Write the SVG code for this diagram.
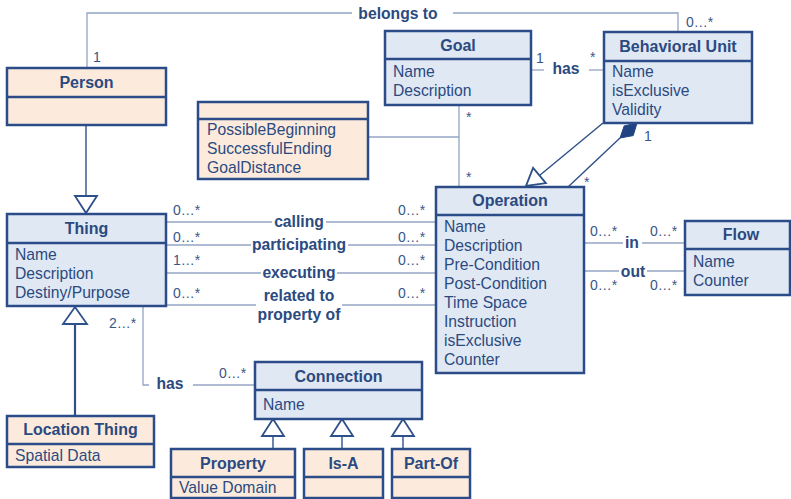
<svg xmlns="http://www.w3.org/2000/svg" width="791" height="499" viewBox="0 0 791 499">
<style>
.box{stroke:#2b4c88;stroke-width:2.5}
.blue{fill:#e0e8f4}
.orange{fill:#fcebdd}
.div{stroke:#2b4c88;stroke-width:2.5}
.title{font-family:"Liberation Sans",Arial,sans-serif;font-weight:bold;font-size:16px;fill:#2b4a80;text-anchor:middle}
.attr{font-family:"Liberation Sans",Arial,sans-serif;font-size:15.7px;fill:#2b4a80}
.lbl{font-family:"Liberation Sans",Arial,sans-serif;font-weight:bold;font-size:15.7px;fill:#2b4a80;text-anchor:middle}
.mult{font-family:"Liberation Sans",Arial,sans-serif;font-size:14px;fill:#3a5686}
.thin{fill:none;stroke:#93a5c4;stroke-width:1.3}
.navy{fill:none;stroke:#2e5089;stroke-width:1.4}
.navy2{fill:none;stroke:#2e5089;stroke-width:2.2}
.tri{fill:#ffffff;stroke:#2e5089;stroke-width:1.8}
</style>
<rect width="791" height="499" fill="#ffffff"/>

<g id="connectors">
  <!-- belongs to -->
  <polyline class="thin" points="87,68 87,13 352,13"/>
  <polyline class="thin" points="453,13 678,13 678,32"/>
  <text class="lbl" x="398" y="19">belongs to</text>
  <text class="mult" x="93" y="62">1</text>
  <text class="mult" x="686" y="27">0…*</text>
  <!-- Goal has BU -->
  <line class="thin" x1="531" y1="70" x2="544" y2="70"/>
  <line class="thin" x1="589" y1="70" x2="604" y2="70"/>
  <text class="lbl" x="566" y="74">has</text>
  <text class="mult" x="536" y="63">1</text>
  <text class="mult" x="590" y="62">*</text>
  <!-- Goal - Operation -->
  <line class="thin" x1="459" y1="105" x2="459" y2="187"/>
  <line class="thin" x1="368" y1="137" x2="459" y2="137"/>
  <text class="mult" x="466" y="122">*</text>
  <text class="mult" x="466" y="182">*</text>
  <!-- BU generalization to Operation -->
  <line class="navy" x1="603" y1="123" x2="539.5" y2="175.5"/>
  <polygon class="tri" points="533.1,167.8 545.9,183.2 526,186"/>
  <!-- composition -->
  <line class="navy" x1="568" y1="187" x2="620" y2="138"/>
  <polygon fill="#1f4283" stroke="#1f4283" stroke-width="1" points="637,123 633.2,135.6 620,138 624.2,125.9"/>
  <text class="mult" x="644" y="141">1</text>
  <text class="mult" x="584" y="187">*</text>
  <!-- Person -> Thing -->
  <line class="navy" x1="86" y1="125" x2="86" y2="196"/>
  <polygon class="tri" points="75,196 97,196 86,213"/>
  <!-- Location Thing -> Thing -->
  <line class="navy2" x1="75" y1="324" x2="75" y2="416"/>
  <polygon class="tri" points="63,324 87,324 75,307"/>
  <!-- Thing - Operation -->
  <line class="thin" x1="166" y1="222" x2="272" y2="222"/>
  <line class="thin" x1="326" y1="222" x2="436" y2="222"/>
  <text class="lbl" x="299" y="227">calling</text>
  <line class="thin" x1="166" y1="245" x2="251" y2="245"/>
  <line class="thin" x1="348" y1="245" x2="436" y2="245"/>
  <text class="lbl" x="299" y="250">participating</text>
  <line class="thin" x1="166" y1="273" x2="261" y2="273"/>
  <line class="thin" x1="337" y1="273" x2="436" y2="273"/>
  <text class="lbl" x="299" y="278">executing</text>
  <line class="thin" x1="166" y1="305" x2="256" y2="305"/>
  <line class="thin" x1="342" y1="305" x2="436" y2="305"/>
  <text class="lbl" x="299" y="301">related to</text>
  <text class="lbl" x="299" y="320">property of</text>
  <text class="mult" x="173" y="215">0…*</text>
  <text class="mult" x="173" y="242">0…*</text>
  <text class="mult" x="173" y="265">1…*</text>
  <text class="mult" x="173" y="298">0…*</text>
  <text class="mult" x="398" y="215">0…*</text>
  <text class="mult" x="398" y="242">0…*</text>
  <text class="mult" x="398" y="265">0…*</text>
  <text class="mult" x="398" y="298">0…*</text>
  <!-- Operation - Flow -->
  <line class="thin" x1="584" y1="243" x2="623" y2="243"/>
  <line class="thin" x1="642" y1="243" x2="685" y2="243"/>
  <text class="lbl" x="632" y="248">in</text>
  <line class="thin" x1="584" y1="271" x2="619" y2="271"/>
  <line class="thin" x1="647" y1="271" x2="685" y2="271"/>
  <text class="lbl" x="633" y="277">out</text>
  <text class="mult" x="590" y="236">0…*</text>
  <text class="mult" x="650" y="236">0…*</text>
  <text class="mult" x="590" y="290">0…*</text>
  <text class="mult" x="650" y="290">0…*</text>
  <!-- Thing has Connection -->
  <polyline class="thin" points="143,306 143,385 149,385"/>
  <line class="thin" x1="193" y1="385" x2="255" y2="385"/>
  <text class="lbl" x="170" y="389">has</text>
  <text class="mult" x="109" y="328">2…*</text>
  <text class="mult" x="219" y="378">0…*</text>
  <!-- Connection subclasses -->
  <line class="navy" x1="273" y1="436" x2="273" y2="449"/>
  <polygon class="tri" points="262,436 284,436 273,419"/>
  <line class="navy" x1="342" y1="436" x2="342" y2="449"/>
  <polygon class="tri" points="331,436 353,436 342,419"/>
  <line class="navy" x1="403" y1="436" x2="403" y2="449"/>
  <polygon class="tri" points="392,436 414,436 403,419"/>
</g>

<g id="person">
  <rect class="box orange" x="7" y="68" width="159" height="57"/>
  <line class="div" x1="7" y1="97" x2="166" y2="97"/>
  <text class="title" x="86.5" y="88">Person</text>
</g>

<g id="goal">
  <rect class="box blue" x="385" y="31" width="146" height="74"/>
  <line class="div" x1="385" y1="59" x2="531" y2="59"/>
  <text class="title" x="458" y="51">Goal</text>
  <text class="attr" x="393" y="77">Name</text>
  <text class="attr" x="393" y="96">Description</text>
</g>

<g id="behavioral-unit">
  <rect class="box blue" x="604" y="32" width="148" height="91"/>
  <line class="div" x1="604" y1="61" x2="752" y2="61"/>
  <text class="title" x="678" y="52">Behavioral Unit</text>
  <text class="attr" x="612" y="77">Name</text>
  <text class="attr" x="612" y="96">isExclusive</text>
  <text class="attr" x="612" y="115">Validity</text>
</g>

<g id="goal-attributes">
  <rect class="box orange" x="198" y="102" width="170" height="77"/>
  <line class="div" x1="198" y1="119" x2="368" y2="119"/>
  <text class="attr" x="207" y="135">PossibleBeginning</text>
  <text class="attr" x="207" y="154">SuccessfulEnding</text>
  <text class="attr" x="207" y="173">GoalDistance</text>
</g>

<g id="operation">
  <rect class="box blue" x="436" y="187" width="148" height="186"/>
  <line class="div" x1="436" y1="215" x2="584" y2="215"/>
  <text class="title" x="510" y="206">Operation</text>
  <text class="attr" x="444" y="232">Name</text>
  <text class="attr" x="444" y="251">Description</text>
  <text class="attr" x="444" y="270">Pre-Condition</text>
  <text class="attr" x="444" y="289">Post-Condition</text>
  <text class="attr" x="444" y="308">Time Space</text>
  <text class="attr" x="444" y="327">Instruction</text>
  <text class="attr" x="444" y="346">isExclusive</text>
  <text class="attr" x="444" y="365">Counter</text>
</g>

<g id="thing">
  <rect class="box blue" x="7" y="214" width="159" height="92"/>
  <line class="div" x1="7" y1="243" x2="166" y2="243"/>
  <text class="title" x="86.5" y="234">Thing</text>
  <text class="attr" x="15" y="260">Name</text>
  <text class="attr" x="15" y="279">Description</text>
  <text class="attr" x="15" y="298">Destiny/Purpose</text>
</g>

<g id="flow">
  <rect class="box blue" x="685" y="221" width="105" height="74"/>
  <line class="div" x1="685" y1="249" x2="790" y2="249"/>
  <text class="title" x="741" y="240">Flow</text>
  <text class="attr" x="693" y="267">Name</text>
  <text class="attr" x="693" y="286">Counter</text>
</g>

<g id="location-thing">
  <rect class="box orange" x="7" y="416" width="147" height="51"/>
  <line class="div" x1="7" y1="444" x2="154" y2="444"/>
  <text class="title" x="80.5" y="435">Location Thing</text>
  <text class="attr" x="15" y="461">Spatial Data</text>
</g>

<g id="connection">
  <rect class="box blue" x="255" y="362" width="167" height="57"/>
  <line class="div" x1="255" y1="390" x2="422" y2="390"/>
  <text class="title" x="338.5" y="382">Connection</text>
  <text class="attr" x="263" y="410">Name</text>
</g>

<g id="property">
  <rect class="box orange" x="171" y="449" width="124" height="49"/>
  <line class="div" x1="171" y1="477" x2="295" y2="477"/>
  <text class="title" x="233" y="469">Property</text>
  <text class="attr" x="179" y="493">Value Domain</text>
</g>

<g id="is-a">
  <rect class="box orange" x="304" y="449" width="79" height="49"/>
  <line class="div" x1="304" y1="477" x2="383" y2="477"/>
  <text class="title" x="343.5" y="469">Is-A</text>
</g>

<g id="part-of">
  <rect class="box orange" x="392" y="449" width="78" height="49"/>
  <line class="div" x1="392" y1="477" x2="470" y2="477"/>
  <text class="title" x="431" y="469">Part-Of</text>
</g>
</svg>
